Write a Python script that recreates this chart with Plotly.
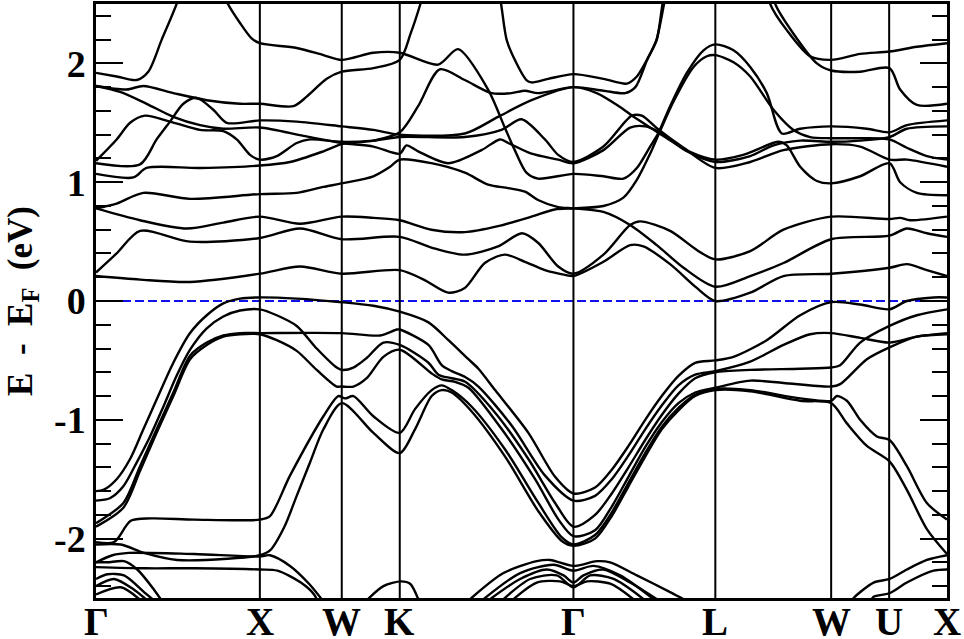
import plotly.graph_objects as go

# k-path (units of 2*pi/a) and labels
kpath = [0.0, 1.0, 1.5, 1.854, 2.914, 3.780, 4.487, 4.841, 5.194]
klabels = ["Γ", "X", "W", "K", "Γ", "L", "W", "U", "X"]
ytick_vals = [-2, -1, 0, 1, 2]
ytick_text = ["-2", "-1", "0", "1", "2"]
fermi = 0.0

# conduction bands  [k, E]
c1 = [[0, 1.92], [0.126, 1.89], [0.248, 1.86], [0.319, 1.93], [0.401, 2.20], [0.497, 2.52], [0.53, 2.7]]
c2 = [[0.76, 2.7], [0.798, 2.52], [0.879, 2.34], [0.950, 2.21], [1.0, 2.17], [1.225, 2.13], [1.388, 2.07],
      [1.5, 2.03], [1.693, 2.09], [1.854, 2.09], [2.088, 1.99], [2.210, 2.12], [2.393, 1.78], [2.495, 1.46],
      [2.556, 1.27], [2.627, 1.08], [2.698, 1.03], [2.914, 1.07], [3.097, 1.05], [3.219, 1.03], [3.301, 1.12],
      [3.382, 1.30], [3.427, 1.40], [3.504, 1.64], [3.606, 1.92], [3.708, 2.11], [3.780, 2.16], [3.891, 2.11],
      [3.993, 1.97], [4.094, 1.75], [4.186, 1.41], [4.298, 1.45], [4.487, 1.47], [4.705, 1.45], [4.843, 1.42],
      [4.949, 1.48], [5.194, 1.52]]
c3 = [[0, 1.81], [0.187, 1.78], [0.289, 1.81], [0.472, 1.75], [0.676, 1.69], [0.879, 1.66], [1.0, 1.66],
      [1.205, 1.64], [1.286, 1.72], [1.408, 1.87], [1.5, 1.93], [1.693, 1.96], [1.854, 2.03], [1.92, 2.25],
      [1.98, 2.50], [2.0, 2.6]]
c4 = [[0, 1.81], [0.147, 1.76], [0.309, 1.66], [0.472, 1.55], [0.635, 1.48], [0.777, 1.45], [1.0, 1.46],
      [1.266, 1.39], [1.5, 1.33], [1.693, 1.30], [1.854, 1.24], [1.895, 1.31], [1.966, 1.26], [2.149, 1.16],
      [2.353, 1.27], [2.465, 1.36], [2.516, 1.33], [2.658, 1.24], [2.821, 1.19], [2.914, 1.16], [3.097, 1.27],
      [3.260, 1.46], [3.352, 1.47], [3.427, 1.43], [3.606, 1.26], [3.780, 1.17], [3.993, 1.22], [4.135, 1.31],
      [4.298, 1.35], [4.487, 1.34], [4.664, 1.35], [4.843, 1.38], [4.949, 1.45], [5.194, 1.47]]
c5 = [[0, 1.18], [0.126, 1.36], [0.208, 1.50], [0.299, 1.56], [0.452, 1.51], [0.635, 1.44], [0.777, 1.43],
      [0.859, 1.36], [0.940, 1.23], [1.0, 1.19], [1.103, 1.22], [1.225, 1.33], [1.306, 1.36], [1.5, 1.34],
      [1.693, 1.35], [1.854, 1.38], [2.251, 1.38], [2.475, 1.44], [2.597, 1.53], [2.740, 1.36], [2.821, 1.23],
      [2.914, 1.17], [3.097, 1.30], [3.270, 1.56], [3.331, 1.56], [3.427, 1.45], [3.586, 1.29], [3.780, 1.12],
      [3.993, 1.17], [4.196, 1.27], [4.487, 1.32], [4.664, 1.30], [4.843, 1.19], [4.949, 1.19], [5.194, 1.13]]
c6 = [[0, 1.16], [0.269, 1.15], [0.370, 1.36], [0.452, 1.51], [0.533, 1.66], [0.615, 1.71], [0.716, 1.61],
      [0.798, 1.50], [1.0, 1.52], [1.225, 1.51], [1.5, 1.47], [1.693, 1.44], [1.854, 1.40], [2.251, 1.41],
      [2.454, 1.55], [2.658, 1.69], [2.914, 1.80], [3.056, 1.75], [3.191, 1.64], [3.293, 1.54], [3.394, 1.45],
      [3.496, 1.36], [3.618, 1.26], [3.780, 1.19], [3.95, 1.23], [4.166, 1.34], [4.216, 1.31], [4.298, 1.13],
      [4.400, 1.01], [4.487, 0.99], [4.664, 1.05], [4.843, 1.16], [4.908, 1.00], [5.010, 0.91], [5.194, 0.89]]
c7 = [[0, 1.07], [0.228, 1.04], [0.309, 1.12], [0.635, 1.12], [1.0, 1.14], [1.184, 1.17], [1.388, 1.26],
      [1.5, 1.32], [1.693, 1.35], [1.854, 1.42], [1.966, 1.64], [2.098, 1.95], [2.251, 1.86], [2.414, 1.75],
      [2.536, 1.75], [2.618, 1.77], [2.698, 1.75], [2.914, 1.80], [3.097, 1.77], [3.230, 1.75], [3.292, 1.80],
      [3.364, 2.03], [3.421, 2.20], [3.47, 2.52], [3.5, 2.7]]
c8 = [[2.44, 2.7], [2.47, 2.52], [2.506, 2.20], [2.556, 2.03], [2.627, 1.86], [2.658, 1.84], [2.760, 1.87],
      [2.914, 1.91], [3.097, 1.87], [3.240, 1.83], [3.301, 1.89], [3.382, 2.08], [3.423, 2.20], [3.46, 2.52],
      [3.49, 2.7]]
c9 = [[0, 0.78], [0.126, 0.82], [0.289, 0.91], [0.574, 0.86], [1.0, 0.90], [1.225, 0.91], [1.388, 0.96],
      [1.5, 0.99], [1.693, 1.05], [1.795, 1.13], [1.854, 1.19], [2.047, 1.16], [2.251, 1.08], [2.393, 0.98],
      [2.516, 0.95], [2.618, 0.92], [2.698, 0.85], [2.821, 0.79], [2.914, 0.78], [3.097, 0.75], [3.260, 0.64],
      [3.423, 0.47], [3.586, 0.28], [3.780, 0.12], [3.993, 0.21], [4.196, 0.32], [4.487, 0.52], [4.843, 0.55],
      [4.949, 0.61], [5.071, 0.57], [5.194, 0.54]]
c10 = [[0, 0.78], [0.269, 0.68], [0.554, 0.61], [0.777, 0.66], [1.0, 0.71], [1.245, 0.65], [1.5, 0.71],
       [1.693, 0.70], [1.854, 0.68], [2.047, 0.60], [2.251, 0.58], [2.454, 0.63], [2.658, 0.71], [2.800, 0.77],
       [2.914, 0.78], [3.097, 0.80], [3.219, 0.87], [3.301, 1.02], [3.382, 1.24], [3.433, 1.40], [3.525, 1.68],
       [3.647, 1.97], [3.728, 2.06], [3.780, 2.07], [3.891, 2.01], [3.993, 1.89], [4.135, 1.61], [4.257, 1.44],
       [4.359, 1.38], [4.487, 1.37], [4.664, 1.37], [4.843, 1.36], [4.949, 1.29], [5.071, 1.22], [5.194, 1.19]]
c11 = [[0, 0.24], [0.126, 0.40], [0.269, 0.59], [0.574, 0.50], [1.0, 0.53], [1.245, 0.61], [1.5, 0.52],
       [1.854, 0.54], [2.047, 0.45], [2.251, 0.39], [2.454, 0.46], [2.600, 0.57], [2.698, 0.49], [2.821, 0.29],
       [2.914, 0.23], [3.097, 0.39], [3.260, 0.64], [3.321, 0.67], [3.504, 0.59], [3.667, 0.43], [3.780, 0.35],
       [3.993, 0.42], [4.196, 0.60], [4.487, 0.71], [4.843, 0.69], [4.908, 0.70], [4.969, 0.68], [5.194, 0.71]]
c12 = [[0, 0.21], [0.269, 0.18], [0.574, 0.16], [1.0, 0.23], [1.245, 0.29], [1.5, 0.23], [1.854, 0.26],
       [2.0, 0.18], [2.149, 0.07], [2.251, 0.11], [2.373, 0.32], [2.495, 0.39], [2.618, 0.33], [2.740, 0.26],
       [2.862, 0.22], [2.914, 0.21], [3.097, 0.33], [3.260, 0.47], [3.341, 0.46], [3.504, 0.31], [3.667, 0.11],
       [3.780, 0.0], [3.993, 0.07], [4.196, 0.21], [4.487, 0.23], [4.843, 0.28], [4.949, 0.31], [5.071, 0.26],
       [5.194, 0.21]]
c13 = [[4.09, 2.7], [4.115, 2.50], [4.216, 2.28], [4.359, 2.06], [4.487, 2.03], [4.664, 2.08], [4.843, 2.10],
       [5.010, 2.14], [5.194, 2.17]]
c14 = [[4.12, 2.7], [4.146, 2.50], [4.257, 2.25], [4.400, 2.00], [4.487, 1.94], [4.664, 1.93], [4.843, 1.96],
       [4.908, 1.78], [5.010, 1.65], [5.194, 1.66]]

# valence bands  [k, E]
v1 = [[0, -1.60], [0.045, -1.59], [0.126, -1.50], [0.208, -1.33], [0.289, -1.08], [0.370, -0.83], [0.472, -0.52],
      [0.574, -0.27], [0.676, -0.12], [0.777, -0.02], [0.879, 0.02], [1.0, 0.03], [1.225, 0.02], [1.5, -0.01],
      [1.693, -0.04], [1.854, -0.09], [2.029, -0.18], [2.151, -0.33], [2.273, -0.49], [2.334, -0.57],
      [2.436, -0.75], [2.639, -1.11], [2.802, -1.48], [2.914, -1.62], [3.046, -1.57], [3.148, -1.42],
      [3.250, -1.22], [3.352, -1.00], [3.453, -0.80], [3.555, -0.63], [3.657, -0.52], [3.780, -0.50],
      [3.891, -0.47], [4.094, -0.33], [4.298, -0.12], [4.487, -0.01], [4.664, -0.03], [4.843, -0.07],
      [4.949, 0.0], [5.112, 0.03], [5.194, 0.03]]
v2 = [[0, -1.68], [0.085, -1.66], [0.167, -1.56], [0.248, -1.36], [0.330, -1.14], [0.411, -0.89], [0.492, -0.63],
      [0.574, -0.41], [0.676, -0.23], [0.777, -0.13], [0.879, -0.08], [1.0, -0.07], [1.103, -0.12],
      [1.225, -0.21], [1.347, -0.40], [1.469, -0.56], [1.5, -0.58], [1.571, -0.56], [1.652, -0.48],
      [1.754, -0.35], [1.854, -0.37], [2.029, -0.52], [2.090, -0.62], [2.171, -0.65], [2.253, -0.68],
      [2.436, -0.94], [2.639, -1.33], [2.802, -1.70], [2.914, -1.90], [3.046, -1.80], [3.148, -1.62],
      [3.250, -1.40], [3.352, -1.17], [3.453, -0.96], [3.555, -0.78], [3.657, -0.65], [3.780, -0.60],
      [3.993, -0.58], [4.298, -0.57], [4.487, -0.56], [4.542, -0.54], [4.664, -0.35], [4.843, -0.21],
      [5.010, -0.12], [5.194, -0.07]]
v3 = [[0, -1.87], [0.167, -1.70], [0.269, -1.39], [0.370, -1.08], [0.472, -0.77], [0.574, -0.46], [0.676, -0.35],
      [0.777, -0.29], [0.879, -0.27], [1.0, -0.27], [1.5, -0.27], [1.734, -0.29], [1.836, -0.24], [1.854, -0.24],
      [2.029, -0.37], [2.110, -0.54], [2.171, -0.59], [2.253, -0.64], [2.334, -0.72], [2.538, -1.05],
      [2.741, -1.47], [2.914, -1.68], [3.046, -1.64], [3.148, -1.50], [3.250, -1.30], [3.352, -1.08],
      [3.453, -0.88], [3.555, -0.71], [3.657, -0.62], [3.780, -0.59], [3.993, -0.51], [4.196, -0.37],
      [4.359, -0.28], [4.487, -0.27], [4.664, -0.31], [4.843, -0.35], [5.010, -0.30], [5.194, -0.27]]
v4 = [[0, -1.90], [0.167, -1.74], [0.269, -1.43], [0.370, -1.11], [0.472, -0.80], [0.574, -0.49], [0.676, -0.37],
      [0.777, -0.30], [0.879, -0.28], [1.0, -0.28], [1.103, -0.33], [1.225, -0.42], [1.347, -0.58],
      [1.469, -0.72], [1.5, -0.72], [1.571, -0.72], [1.652, -0.65], [1.754, -0.47], [1.854, -0.41],
      [2.049, -0.61], [2.110, -0.66], [2.191, -0.68], [2.273, -0.73], [2.477, -1.08], [2.680, -1.50],
      [2.823, -1.84], [2.914, -1.98], [3.046, -1.93], [3.148, -1.73], [3.250, -1.48], [3.352, -1.23],
      [3.453, -1.02], [3.555, -0.86], [3.657, -0.77], [3.780, -0.73], [3.993, -0.67], [4.196, -0.69],
      [4.487, -0.72], [4.542, -0.70], [4.705, -0.49], [4.843, -0.39], [5.010, -0.30], [5.194, -0.28]]
v5 = [[0, -2.03], [0.11, -2.03], [0.212, -1.85], [0.334, -1.83], [0.6, -1.84], [1.0, -1.84], [1.062, -1.81],
      [1.184, -1.47], [1.388, -0.97], [1.479, -0.80], [1.520, -0.82], [1.571, -0.80], [1.693, -0.97],
      [1.854, -1.11], [1.947, -0.91], [2.049, -0.75], [2.110, -0.71], [2.171, -0.75], [2.293, -0.89],
      [2.497, -1.25], [2.700, -1.70], [2.843, -1.99], [2.914, -2.05], [3.046, -1.97], [3.148, -1.78],
      [3.250, -1.53], [3.352, -1.28], [3.453, -1.06], [3.555, -0.90], [3.657, -0.79], [3.780, -0.74],
      [3.993, -0.75], [4.298, -0.82], [4.487, -0.84], [4.522, -0.80], [4.583, -0.84], [4.664, -1.00],
      [4.766, -1.14], [4.843, -1.17], [4.949, -1.39], [5.071, -1.70], [5.194, -1.84]]
v6 = [[0, -2.05], [0.151, -2.05], [0.293, -2.12], [0.496, -2.18], [0.802, -2.17], [1.0, -2.14], [1.062, -2.10],
      [1.150, -1.90], [1.225, -1.64], [1.306, -1.36], [1.388, -1.08], [1.5, -0.86], [1.693, -1.11],
      [1.854, -1.28], [1.947, -1.08], [2.049, -0.80], [2.110, -0.75], [2.171, -0.77], [2.293, -0.93],
      [2.497, -1.31], [2.700, -1.77], [2.843, -2.02], [2.914, -2.06], [3.046, -2.00], [3.148, -1.81],
      [3.250, -1.56], [3.352, -1.31], [3.453, -1.08], [3.555, -0.92], [3.657, -0.80], [3.780, -0.75],
      [3.993, -0.76], [4.298, -0.84], [4.487, -0.86], [4.583, -1.03], [4.705, -1.22], [4.843, -1.35],
      [4.949, -1.59], [5.071, -1.92], [5.194, -2.13]]
v7 = [[0, -2.24], [0.3, -2.25], [0.6, -2.25], [1.0, -2.26], [1.107, -2.27], [1.25, -2.37], [1.331, -2.47],
      [1.36, -2.55]]
v8 = [[0, -2.20], [0.1, -2.14], [0.2, -2.12], [0.6, -2.13], [1.0, -2.15], [1.062, -2.14], [1.184, -2.23],
      [1.30, -2.38], [1.40, -2.55]]

# deep bands near the bottom of the window
d1 = [[0, -2.20], [0.069, -2.20], [0.171, -2.19], [0.252, -2.26], [0.354, -2.43], [0.40, -2.52]]
d2 = [[0, -2.34], [0.069, -2.30], [0.171, -2.31], [0.293, -2.45], [0.354, -2.52]]
d3 = [[0, -2.40], [0.11, -2.34], [0.232, -2.43], [0.313, -2.52]]
d4 = [[0, -2.47], [0.151, -2.41], [0.273, -2.52]]
e1 = [[2.283, -2.51], [2.487, -2.29], [2.690, -2.19], [2.772, -2.18], [2.914, -2.23], [3.057, -2.19],
      [3.138, -2.20], [3.301, -2.31], [3.504, -2.45], [3.586, -2.51]]
e2 = [[2.365, -2.51], [2.589, -2.29], [2.792, -2.22], [2.914, -2.27], [3.036, -2.23], [3.199, -2.31],
      [3.403, -2.51]]
e3 = [[2.405, -2.51], [2.589, -2.34], [2.752, -2.26], [2.854, -2.31], [2.914, -2.37], [2.975, -2.31],
      [3.097, -2.26], [3.260, -2.37], [3.423, -2.51]]
e4 = [[2.487, -2.51], [2.650, -2.34], [2.813, -2.31], [2.914, -2.41], [3.016, -2.31], [3.159, -2.34],
      [3.342, -2.51]]
e5 = [[2.548, -2.51], [2.690, -2.37], [2.833, -2.36], [2.914, -2.40], [2.997, -2.36], [3.138, -2.38],
      [3.280, -2.51]]
k1 = [[1.652, -2.52], [1.754, -2.40], [1.862, -2.36], [1.917, -2.38], [1.97, -2.52]]
f1 = [[4.60, -2.55], [4.624, -2.50], [4.746, -2.37], [4.843, -2.34], [4.949, -2.26], [5.071, -2.18],
      [5.194, -2.14]]
f2 = [[4.72, -2.55], [4.746, -2.49], [4.843, -2.46], [4.949, -2.37], [5.112, -2.27], [5.194, -2.26]]

bands = [c1, c2, c3, c4, c5, c6, c7, c8, c9, c10, c11, c12, c13, c14,
         v1, v2, v3, v4, v5, v6, v7, v8, d1, d2, d3, d4, e1, e2, e3, e4, e5, k1, f1, f2]

FONT = "Liberation Serif"

fig = go.Figure()

# Fermi level
fig.add_trace(go.Scatter(
    x=[kpath[0], kpath[-1]], y=[fermi, fermi], mode="lines",
    line=dict(color="#1010ee", width=2, dash="9px,4px"), hoverinfo="skip"
))

for b in bands:
    fig.add_trace(go.Scatter(
        x=[p[0] for p in b], y=[p[1] for p in b], mode="lines",
        line=dict(color="black", width=2.4, shape="spline", smoothing=0.8),
        hoverinfo="skip"
    ))

# high-symmetry verticals
for k in kpath[1:-1]:
    fig.add_shape(type="line", x0=k, x1=k, y0=0, y1=1, xref="x", yref="paper",
                  line=dict(color="black", width=2))

# k-point labels under the axis
for k, lab in zip(kpath, klabels):
    fig.add_annotation(
        text=f"<b>{lab}</b>", x=k, xref="x", y=0, yref="paper",
        xanchor="center", yanchor="middle", yshift=-23, showarrow=False,
        font=dict(family=FONT, size=39, color="black")
    )

fig.add_annotation(
    text="<b>E\u2002-\u2002E<sub>F</sub>\u2002(eV)</b>", textangle=-90,
    xref="paper", yref="paper", x=-0.087, y=0.5, xanchor="center", yanchor="middle",
    showarrow=False, font=dict(family=FONT, size=35, color="black")
)

fig.update_xaxes(
    range=[kpath[0], kpath[-1]], showticklabels=False,
    ticks="", showgrid=False, zeroline=False, showline=True, linecolor="black",
    linewidth=2.5, mirror=True, automargin=False
)
fig.update_yaxes(
    range=[-2.5, 2.5], tickmode="array", tickvals=ytick_vals, ticktext=ytick_text,
    ticks="inside", ticklen=27, tickwidth=2, tickcolor="black",
    minor=dict(tickmode="linear", tick0=0, dtick=0.2, ticks="inside", ticklen=15,
               tickwidth=2, tickcolor="black"),
    showgrid=False, zeroline=False, showline=True, linecolor="black", linewidth=2.5,
    mirror="allticks", automargin=False,
    tickfont=dict(family=FONT, size=38, color="black", weight="bold")
)

fig.update_layout(
    width=964, height=639,
    margin=dict(l=96, r=17, t=4, b=41),
    paper_bgcolor="white", plot_bgcolor="white",
    showlegend=False
)

fig.write_html("out.html", config={"displayModeBar": False},
               post_script="document.body.style.margin='0px';")
